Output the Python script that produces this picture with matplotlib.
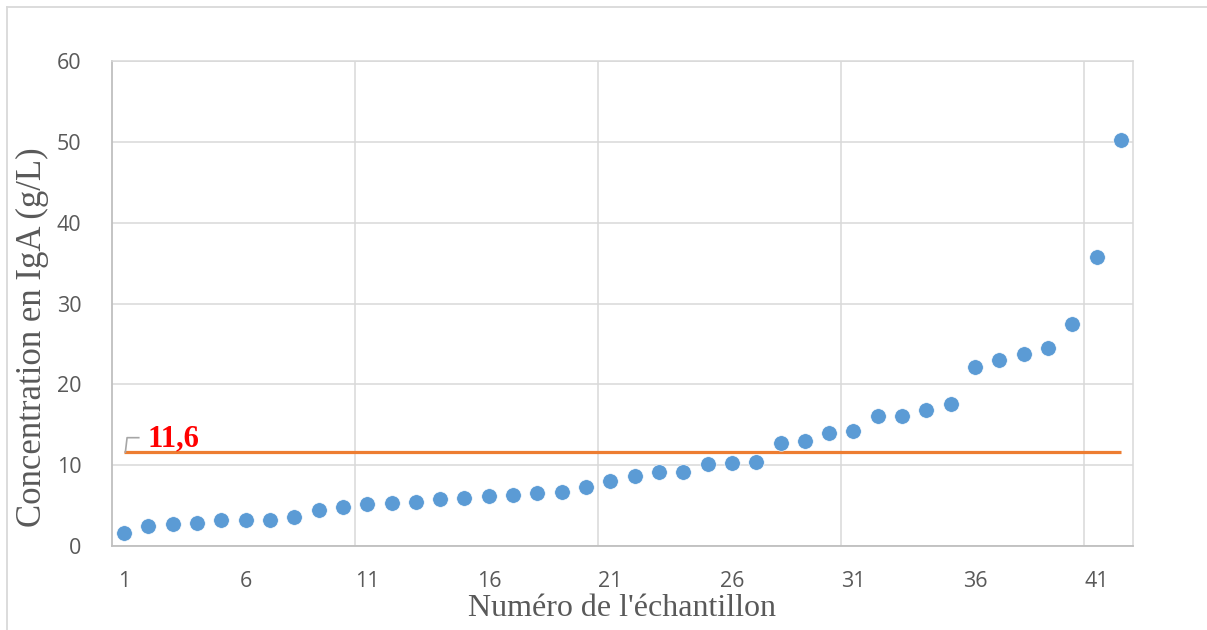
import matplotlib.pyplot as plt
from matplotlib.lines import Line2D

# concentrations IgA (g/L), classées par ordre croissant
samples = list(range(1, 43))
iga = [1.6, 2.5, 2.7, 2.8, 3.2, 3.2, 3.2, 3.6, 4.4, 4.8,
       5.2, 5.3, 5.5, 5.8, 6.0, 6.2, 6.3, 6.6, 6.7, 7.3,
       8.1, 8.7, 9.1, 9.1, 10.2, 10.3, 10.4, 12.8, 13.0, 14.0,
       14.2, 16.1, 16.1, 16.8, 17.6, 22.2, 23.0, 23.8, 24.5, 27.5,
       35.8, 50.2]
seuil = 11.6
xticks = [1, 6, 11, 16, 21, 26, 31, 36, 41]
yticks = [0, 10, 20, 30, 40, 50, 60]

fig = plt.figure(figsize=(12.07, 6.30), dpi=100)
ax = fig.add_axes([112 / 1207, 84 / 630, 1021 / 1207, 485 / 630])

grid_c = '#d9d9d9'
txt_c = '#595959'

ax.scatter(samples, iga, s=125, color='#5b9bd5', edgecolors='white',
           linewidths=0.4, zorder=3)
ax.plot(samples, [seuil] * len(samples), color='#ed7d31', lw=2.3,
        solid_capstyle='butt', zorder=2)

# étiquette du seuil avec sa ligne de rappel
x0 = samples[0]
ax.plot([x0 + 0.05, x0 + 0.12, x0 + 0.6], [seuil, seuil + 1.8, seuil + 1.8],
        color='#a6a6a6', lw=1.2, zorder=2)
ax.annotate(f'{seuil:.1f}'.replace('.', ','), xy=(x0, seuil),
            xytext=(17, 4.5), textcoords='offset points', va='baseline',
            ha='left', fontsize=22, fontweight='bold', color='red',
            family='Liberation Serif')

ax.set_xlim(0.5, 42.5)
ax.set_ylim(0, 60)
ax.set_xticks(xticks)
ax.set_yticks(yticks)
ax.set_xticks([10.5, 20.5, 30.5, 40.5], minor=True)
ax.tick_params(axis='both', which='both', length=0, labelsize=15.5,
               labelcolor=txt_c)
ax.tick_params(axis='y', pad=22)
ax.tick_params(axis='x', pad=18)
for lab in ax.get_xticklabels() + ax.get_yticklabels():
    lab.set_family('Open Sans')

ax.grid(axis='y', which='major', color=grid_c, lw=1.1)
ax.grid(axis='x', which='minor', color=grid_c, lw=1.1)
ax.set_axisbelow(True)

for side in ('top', 'right'):
    ax.spines[side].set_color(grid_c)
    ax.spines[side].set_linewidth(1.1)
for side in ('left', 'bottom'):
    ax.spines[side].set_color('#bfbfbf')
    ax.spines[side].set_linewidth(1.3)

ax.set_ylabel('Concentration en IgA (g/L)', family='Liberation Serif',
              fontsize=25, color=txt_c)
ax.set_xlabel("Numéro de l'échantillon", family='Liberation Serif',
              fontsize=23, color=txt_c)
ax.yaxis.set_label_coords(-0.062, 0.43)
ax.xaxis.set_label_coords(0.5, -0.1)

# cadre extérieur du graphique
fig.add_artist(Line2D([7 / 1207, 7 / 1207], [0, 1 - 7 / 630],
                      transform=fig.transFigure, color=grid_c, lw=1.3))
fig.add_artist(Line2D([7 / 1207, 1], [1 - 7 / 630, 1 - 7 / 630],
                      transform=fig.transFigure, color=grid_c, lw=1.3))

fig.savefig('out.png', dpi=100, facecolor='white')
